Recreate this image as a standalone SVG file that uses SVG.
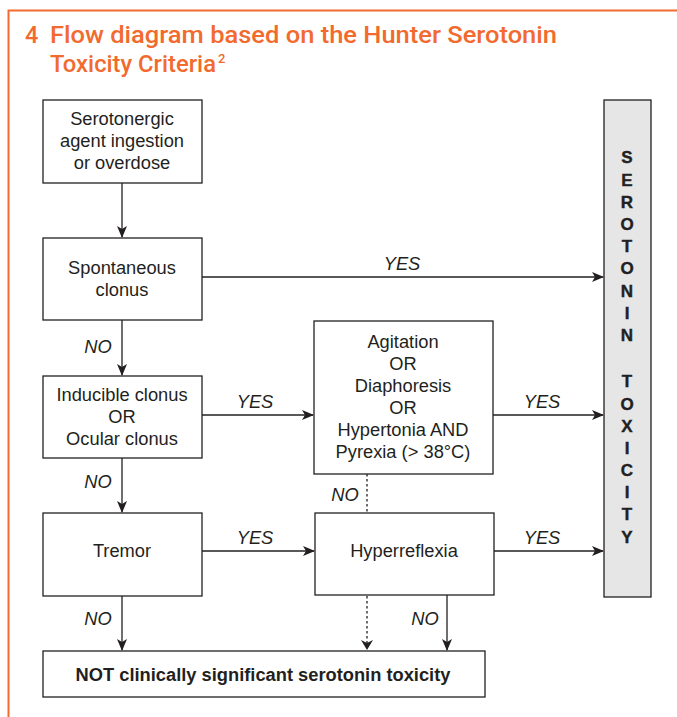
<svg xmlns="http://www.w3.org/2000/svg" width="677" height="717" viewBox="0 0 677 717">
<defs>
<marker id="ah" markerWidth="12" markerHeight="10" refX="11" refY="5" orient="auto" markerUnits="userSpaceOnUse">
<path d="M0,0 L12,5 L0,10 L3,5 Z" fill="#231f20"/>
</marker>
<style>
.box{fill:#fff;stroke:#231f20;stroke-width:1.3}
.t{font-family:"Liberation Sans",Arial,sans-serif;font-size:18.3px;fill:#231f20;text-anchor:middle}
.lab{font-family:"Liberation Sans",Arial,sans-serif;font-size:18.3px;font-style:italic;fill:#231f20;text-anchor:middle}
.c{stroke:#231f20;stroke-width:1.3;fill:none;marker-end:url(#ah)}
.d{stroke:#231f20;stroke-width:1.3;fill:none;stroke-dasharray:2.5,2.5}
.v{font-family:"Liberation Sans",Arial,sans-serif;font-size:17px;font-weight:bold;fill:#231f20;text-anchor:middle;stroke:#231f20;stroke-width:0.4}
.title{font-family:Roboto,"Liberation Sans",sans-serif;font-size:23.5px;font-weight:500;fill:#f26a2e}
.sup{font-family:Roboto,"Liberation Sans",sans-serif;font-size:13px;font-weight:500;fill:#f26a2e}
</style>
</defs>
<rect width="677" height="717" fill="#fff"/>
<path d="M8.5,717 L8.5,10.5 L677,10.5" fill="none" stroke="#f26a2e" stroke-width="2"/>
<g id="title">
<text class="title" x="25" y="43">4</text>
<text class="title" x="50" y="43" textLength="507" lengthAdjust="spacingAndGlyphs">Flow diagram based on the Hunter Serotonin</text>
<text class="title" x="50" y="72" textLength="166" lengthAdjust="spacingAndGlyphs">Toxicity Criteria</text>
<text class="sup" x="218" y="63">2</text>
</g>
<g id="n1"><rect class="box" x="43" y="100" width="159" height="83"/>
<text class="t" x="122" y="124.5">Serotonergic</text><text class="t" x="122" y="146.5">agent ingestion</text><text class="t" x="122" y="168.5">or overdose</text></g>
<g id="n2"><rect class="box" x="43" y="238" width="159" height="82"/>
<text class="t" x="122" y="273.5">Spontaneous</text><text class="t" x="122" y="295.5">clonus</text></g>
<g id="n3"><rect class="box" x="43" y="376" width="159" height="82"/>
<text class="t" x="122" y="400.5">Inducible clonus</text><text class="t" x="122" y="422.5">OR</text><text class="t" x="122" y="444.5">Ocular clonus</text></g>
<g id="n4"><rect class="box" x="43" y="513" width="159" height="83"/>
<text class="t" x="122" y="557">Tremor</text></g>
<g id="n5"><rect class="box" x="314" y="321" width="179" height="153"/>
<text class="t" x="403" y="347.5">Agitation</text><text class="t" x="403" y="369.5">OR</text><text class="t" x="403" y="391.5">Diaphoresis</text><text class="t" x="403" y="413.5">OR</text><text class="t" x="403" y="435.5">Hypertonia AND</text><text class="t" x="403" y="457.5">Pyrexia (&gt; 38°C)</text></g>
<g id="n6"><rect class="box" x="315" y="513" width="179" height="82"/>
<text class="t" x="404" y="557">Hyperreflexia</text></g>
<g id="n7"><rect class="box" x="43" y="651" width="442" height="46"/>
<text class="t" x="263" y="680.5" font-weight="bold">NOT clinically significant serotonin toxicity</text></g>
<g id="n8"><rect x="604" y="100" width="47" height="497" fill="#e6e6e7" stroke="#231f20" stroke-width="1.3"/>
<text class="v" x="627" y="163">S</text><text class="v" x="627" y="186">E</text><text class="v" x="627" y="208">R</text><text class="v" x="627" y="230">O</text><text class="v" x="627" y="252">T</text><text class="v" x="627" y="274">O</text><text class="v" x="627" y="297">N</text><text class="v" x="627" y="319">I</text><text class="v" x="627" y="341">N</text>
<text class="v" x="627" y="387">T</text><text class="v" x="627" y="410">O</text><text class="v" x="627" y="432">X</text><text class="v" x="627" y="454">I</text><text class="v" x="627" y="476">C</text><text class="v" x="627" y="498">I</text><text class="v" x="627" y="520">T</text><text class="v" x="627" y="543">Y</text></g>
<g id="connectors">
<line class="c" x1="122" y1="183" x2="122" y2="237"/>
<line class="c" x1="202" y1="277" x2="603" y2="277"/>
<line class="c" x1="122" y1="320" x2="122" y2="375"/>
<line class="c" x1="202" y1="415" x2="313" y2="415"/>
<line class="c" x1="493" y1="415" x2="603" y2="415"/>
<line class="c" x1="122" y1="458" x2="122" y2="512"/>
<line class="c" x1="202" y1="551" x2="314" y2="551"/>
<line class="c" x1="494" y1="551" x2="603" y2="551"/>
<line class="d" x1="367" y1="474" x2="367" y2="513"/>
<line class="d" x1="367" y1="596" x2="367" y2="644"/>
<path d="M361,640 L367,650 L373,640 L367,643 Z" fill="#231f20"/>
<line class="c" x1="447" y1="595" x2="447" y2="650"/>
<line class="c" x1="122" y1="596" x2="122" y2="650"/>
<text class="lab" x="402" y="270">YES</text>
<text class="lab" x="98" y="353">NO</text>
<text class="lab" x="255" y="408">YES</text>
<text class="lab" x="542" y="408">YES</text>
<text class="lab" x="98" y="488">NO</text>
<text class="lab" x="345" y="501">NO</text>
<text class="lab" x="255" y="544">YES</text>
<text class="lab" x="542" y="544">YES</text>
<text class="lab" x="98" y="625">NO</text>
<text class="lab" x="425" y="625">NO</text>
</g>
</svg>
